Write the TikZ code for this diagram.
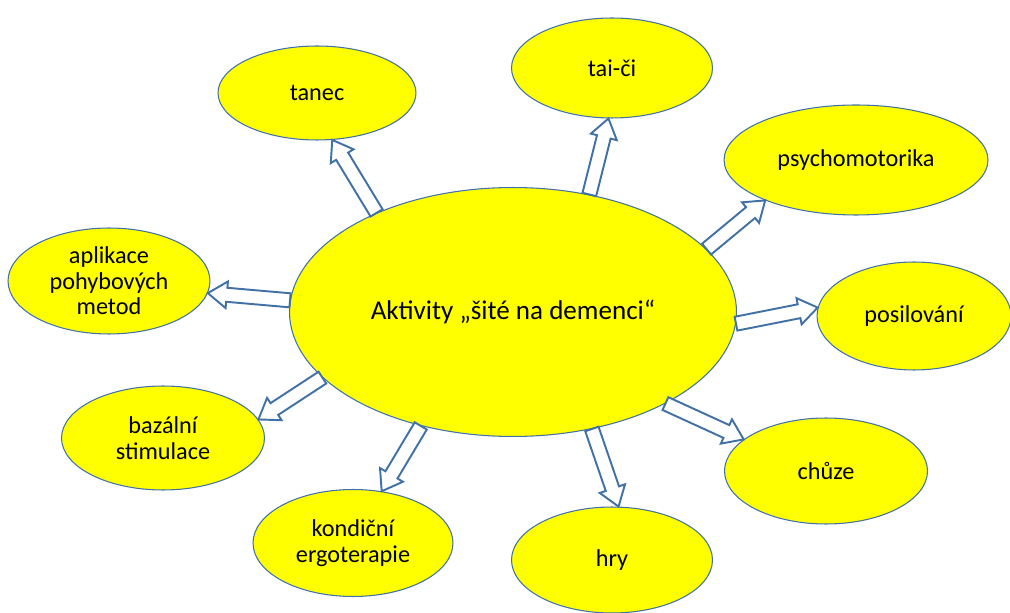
\documentclass[tikz,border=0pt]{standalone}
\usepackage{fontspec}
\setmainfont{Carlito}
\usetikzlibrary{shapes.geometric,calc}

\definecolor{bubble}{RGB}{255,255,0}
\definecolor{rim}{RGB}{65,113,165}

% block arrow dimensions
\def\sw{4pt}     % half width of the shaft
\def\hw{7.6pt}   % half width of the head
\def\hlen{10.8}  % head length in pt

\tikzset{
  bubble/.style={ellipse, draw=rim, line width=0.6pt, fill=bubble, inner sep=0pt,
    align=center, font=\fontsize{13.8}{14.6}\selectfont},
  hub/.style={bubble, font=\fontsize{15.4}{17}\selectfont},
  blockarrow/.style={draw=rim, line width=1.1pt, fill=white, line join=miter},
}

% hollow block arrow from one anchor to another
\newcommand\blockarrowpath[2]{%
  \draw[blockarrow] let \p1=(#1), \p2=(#2),
      \n1={atan2(\y2-\y1,\x2-\x1)},
      \n2={veclen(\x2-\x1,\y2-\y1)-\hlen}
    in ($(\p1)+(\n1+90:\sw)$)
    -- ($(\p1)+(\n1+90:\sw)+(\n1:\n2*1pt)$)
    -- ($(\p1)+(\n1+90:\hw)+(\n1:\n2*1pt)$)
    -- (\p2)
    -- ($(\p1)+(\n1-90:\hw)+(\n1:\n2*1pt)$)
    -- ($(\p1)+(\n1-90:\sw)+(\n1:\n2*1pt)$)
    -- ($(\p1)+(\n1-90:\sw)$) -- cycle;}

\begin{document}
\begin{tikzpicture}[x=0.02cm,y=0.02cm]
  \useasboundingbox (0,0) rectangle (1010,612);

  % centre
  \node[hub, minimum width=8.94cm, minimum height=4.98cm] (hub) at (513,300) {Aktivity „šité na demenci“};

  % surrounding activities
  \node[bubble, minimum width=3.96cm, minimum height=1.88cm] (tanec) at (317,519) {tanec};
  \node[bubble, minimum width=4.02cm, minimum height=2.0cm] (taici) at (612,544) {tai-či};
  \node[bubble, minimum width=5.28cm, minimum height=2.2cm] (psycho) at (856,452) {psychomotorika};
  \node[bubble, minimum width=3.88cm, minimum height=2.16cm] (posil) at (914,296) {posilování};
  \node[bubble, minimum width=4.06cm, minimum height=2.12cm] (chuze) at (826,141) {chůze};
  \node[bubble, minimum width=4.02cm, minimum height=2.12cm] (hry) at (612,52) {hry};
  \node[bubble, minimum width=4.0cm, minimum height=2.14cm] (kond) at (353,69) {kondiční\\ergoterapie};
  \node[bubble, minimum width=4.06cm, minimum height=2.08cm] (baz) at (163,174) {bazální\\stimulace};
  \node[bubble, minimum width=4.04cm, minimum height=2.12cm] (apl) at (109,331) {aplikace\\pohybových\\metod};

  % connectors
  \blockarrowpath{hub.144.3}{tanec.-72.6}
  \blockarrowpath{hub.57.8}{taici.-94.2}
  \blockarrowpath{hub.18.3}{psycho.-156.9}
  \blockarrowpath{hub.177.7}{apl.-7.9}
  \blockarrowpath{hub.-3.9}{posil.175.2}
  \blockarrowpath{hub.-161.2}{baz.11.1}
  \blockarrowpath{hub.-31.2}{chuze.159.7}
  \blockarrowpath{hub.-129.6}{kond.61.6}
  \blockarrowpath{hub.-56.9}{hry.83.8}
\end{tikzpicture}
\end{document}
